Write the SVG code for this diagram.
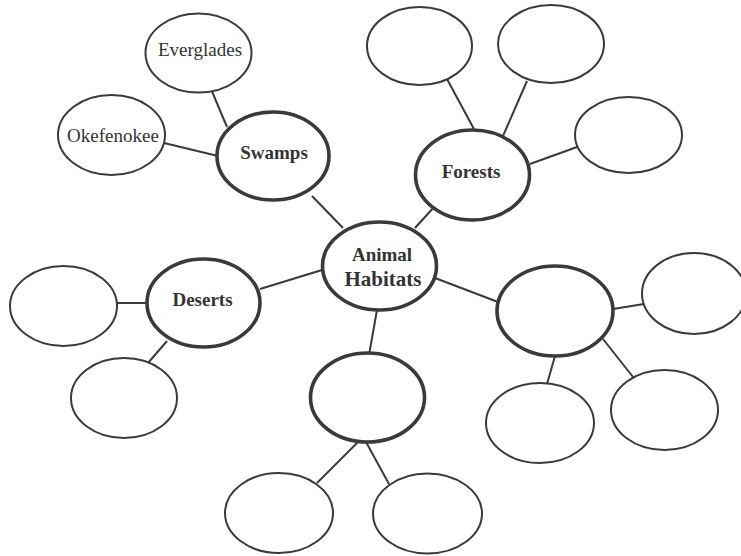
<svg xmlns="http://www.w3.org/2000/svg" width="741" height="556" viewBox="0 0 741 556">
<style>
.thin{fill:#fff;stroke:#3a3a3a;stroke-width:2}
.thick{fill:#fff;stroke:#3a3a3a;stroke-width:3.6}
.ln{stroke:#3a3a3a;stroke-width:2;fill:none}
.t{font-family:"Liberation Serif","Times New Roman",serif;font-size:19px;fill:#333;text-anchor:middle}
.b{font-weight:bold}
</style>
<rect width="741" height="556" fill="#fff"/>
<g id="connectors">
<line class="ln" x1="211" y1="89" x2="227" y2="127"/>
<line class="ln" x1="164" y1="143" x2="218" y2="156"/>
<line class="ln" x1="447" y1="79" x2="475" y2="131"/>
<line class="ln" x1="527" y1="81" x2="503" y2="136"/>
<line class="ln" x1="577" y1="147" x2="530" y2="164"/>
<line class="ln" x1="312" y1="196" x2="343" y2="228"/>
<line class="ln" x1="435" y1="206" x2="415" y2="228"/>
<line class="ln" x1="260" y1="289" x2="322" y2="270"/>
<line class="ln" x1="117" y1="303" x2="147" y2="303"/>
<line class="ln" x1="148" y1="363" x2="167" y2="341"/>
<line class="ln" x1="377" y1="310" x2="369" y2="355"/>
<line class="ln" x1="435" y1="278" x2="498" y2="302"/>
<line class="ln" x1="613" y1="309" x2="644" y2="304"/>
<line class="ln" x1="555" y1="356" x2="547" y2="384"/>
<line class="ln" x1="603" y1="339" x2="633" y2="377"/>
<line class="ln" x1="358" y1="442" x2="317" y2="483"/>
<line class="ln" x1="366" y1="442" x2="389" y2="484"/>
</g>
<g id="everglades"><ellipse class="thin" cx="198.5" cy="53" rx="53" ry="39.5"/><text class="t" x="200" y="56">Everglades</text></g>
<g id="okefenokee"><ellipse class="thin" cx="111.5" cy="135" rx="53.5" ry="40"/><text class="t" x="113" y="142">Okefenokee</text></g>
<g id="swamps"><ellipse class="thick" cx="273" cy="156" rx="56" ry="44"/><text class="t b" x="274" y="159">Swamps</text></g>
<g id="forest1"><ellipse class="thin" cx="419.5" cy="46" rx="52.5" ry="39"/></g>
<g id="forest2"><ellipse class="thin" cx="551" cy="44" rx="53" ry="39"/></g>
<g id="forest3"><ellipse class="thin" cx="628.5" cy="135" rx="53.5" ry="38"/></g>
<g id="forests"><ellipse class="thick" cx="472.5" cy="175" rx="57" ry="45"/><text class="t b" x="471" y="178">Forests</text></g>
<g id="center"><ellipse class="thick" cx="379.5" cy="266" rx="57" ry="44"/><text class="t b" x="382" y="261" font-size="20">Animal</text><text class="t b" x="383" y="286" style="font-size:21px">Habitats</text></g>
<g id="deserts"><ellipse class="thick" cx="203.5" cy="303" rx="56.5" ry="44"/><text class="t b" x="202.5" y="306">Deserts</text></g>
<g id="desert1"><ellipse class="thin" cx="63.5" cy="306" rx="53.5" ry="40"/></g>
<g id="desert2"><ellipse class="thin" cx="124" cy="398" rx="53" ry="40"/></g>
<g id="bottom"><ellipse class="thick" cx="367.5" cy="397.5" rx="57" ry="44.5"/></g>
<g id="bottom1"><ellipse class="thin" cx="279" cy="513" rx="54" ry="40"/></g>
<g id="bottom2"><ellipse class="thin" cx="427.5" cy="513.5" rx="54.5" ry="40"/></g>
<g id="right"><ellipse class="thick" cx="555" cy="311" rx="58" ry="45"/></g>
<g id="right1"><ellipse class="thin" cx="694" cy="293.5" rx="52" ry="40.5"/></g>
<g id="right2"><ellipse class="thin" cx="540" cy="423" rx="54" ry="40"/></g>
<g id="right3"><ellipse class="thin" cx="664.5" cy="410" rx="53.5" ry="40"/></g>
</svg>
